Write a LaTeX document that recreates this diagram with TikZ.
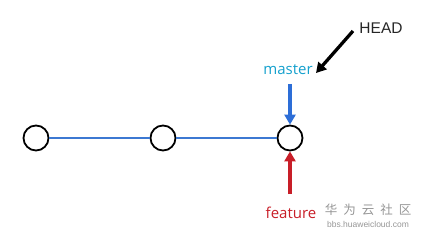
\documentclass[tikz,border=0pt]{standalone}
\usepackage{fontspec}
\setmainfont{Open Sans}
\newfontfamily\headfont{Liberation Sans}
\newfontfamily\cjk{Noto Sans CJK SC}
\usetikzlibrary{arrows.meta}
\definecolor{mastertxt}{RGB}{20,160,205}
\definecolor{bluearr}{RGB}{45,110,215}
\definecolor{linkblue}{RGB}{60,120,210}
\definecolor{redarr}{RGB}{200,30,40}
\definecolor{wm}{RGB}{150,150,150}
\begin{document}
\begin{tikzpicture}[x=1pt,y=-1pt,
  commit/.style={circle,draw=black,line width=1.8pt,minimum size=25pt,inner sep=0pt},
  link/.style={draw=linkblue,line width=1.3pt},
  ptr/.style={line width=3.3pt,-{Triangle[length=10pt,width=11pt]}},
  lbl/.style={inner sep=1pt,font=\fontsize{15}{17}\selectfont}]
\useasboundingbox (0,0) rectangle (423,235);
\node[commit] (c1) at (36,138) {};
\node[commit] (c2) at (163,138) {};
\node[commit] (c3) at (290,138) {};
\draw[link] (c1) -- (c2);
\draw[link] (c2) -- (c3);
\node[lbl,text=mastertxt] (master) at (288,70) {master};
\node[lbl,text=redarr] (feature) at (291,213) {feature};
\node[inner sep=1pt,font=\headfont\fontsize{15.5}{17}\selectfont,text=black!85] (head) at (381,28) {HEAD};
\coordinate (mtail) at (290,84);
\coordinate (ftail) at (290,194);
\coordinate (htail) at (353,31);
\coordinate (htip) at (316,73);
\draw[ptr,bluearr] (mtail) -- (c3.north);
\draw[ptr,redarr] (ftail) -- (c3.south);
\draw[ptr,black] (htail) -- (htip);
\node[inner sep=0pt,text=wm,font=\cjk\fontsize{12.5}{13}\selectfont] (wm1) at (368,210) {华\hspace{6pt}为\hspace{6pt}云\hspace{6pt}社\hspace{6pt}区};
\node[inner sep=0pt,text=wm,font=\headfont\fontsize{8.5}{9}\selectfont] (wm2) at (368,224) {bbs.huaweicloud.com};
\end{tikzpicture}
\end{document}
